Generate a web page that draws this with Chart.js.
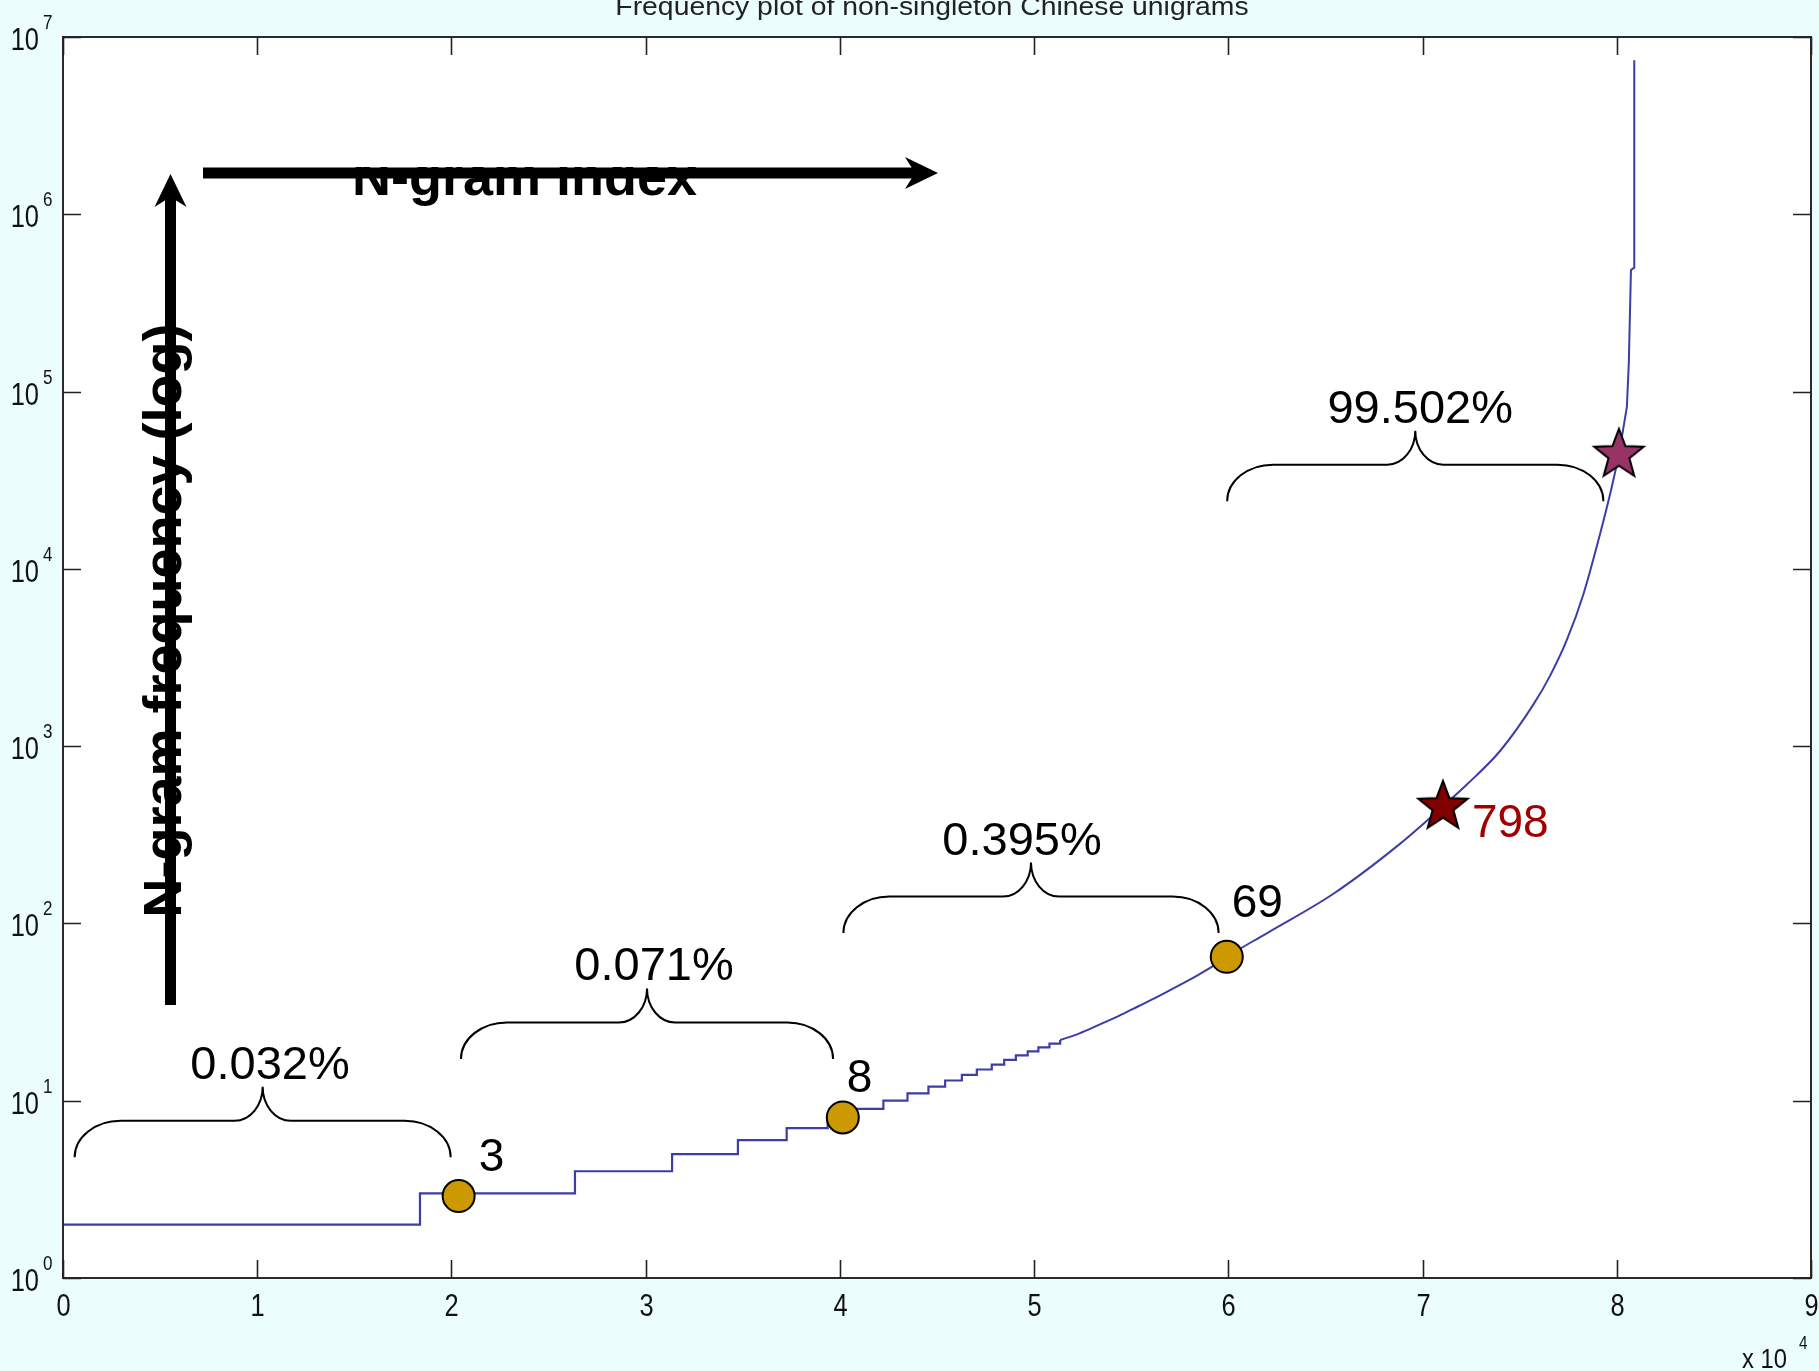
<!DOCTYPE html>
<html><head><meta charset="utf-8">
<script src="https://cdn.jsdelivr.net/npm/chart.js@4.4.1/dist/chart.umd.min.js"></script>
<style>html,body{margin:0;padding:0;background:#ecfdfd;overflow:hidden}canvas{display:block}</style>
</head><body>
<canvas id="c" width="1819" height="1371"></canvas>
<script>
// ---------- data ----------
const chartTitle = 'Frequency plot of non-singleton Chinese unigrams';
const xTickValues = [0,10000,20000,30000,40000,50000,60000,70000,80000,90000];
const xTickLabels = ['0','1','2','3','4','5','6','7','8','9'];
const xMultiplierBase = 'x 10';
const xMultiplierExp = '4';
const yTickValues = [1,10,100,1000,10000,100000,1000000,10000000];
const yTickBase = '10';
const yTickExps = ['0','1','2','3','4','5','6','7'];

// step part of the curve: index where a frequency starts, and that frequency
const stepIndex = [0,18380,26360,31360,34750,37260,39370,40800,42240,43480,44560,45420,46280,47050,47820,48460,49060,49670,50220,50790,51340];
const stepFreq  = [2,3,4,5,6,7,8,9,10,11,12,13,14,15,16,17,18,19,20,21,22];
// smooth upper part of the curve
const tailIndex = [51340,52340,53340,54340,55340,56340,57340,58340,59340,59920,61980,65410,68850,71050,72280,74000,75710,76570,77430,78290,79150,79660,80110];
const tailFreq  = [22,24,26.8,30,34,38.5,44,50.5,58.5,64.8,88,147,282,457,607,942,1720,2500,3970,7240,15900,26500,44000];
// nearly vertical spike of the most frequent unigrams
const spikeIndex = [80110,80520,80620,80730,80900,80900];
const spikeFreq  = [44000,82000,145000,485000,500000,7400000];

// highlighted points
const circleIndex = [20370,40150,59920];
const circleFreq  = [2.9,8.05,64.8];
const circleLabels = ['3','8','69'];
const starIndex = [71050,80110];
const starFreq  = [455,44000];
const starLabels = ['798',''];

// braces (index range, frequency at the feet) and their percentages
const braceStart = [600,20490,40180,59940];
const braceEnd   = [19960,39650,59500,79310];
const braceFoot  = [4.8,17.2,88.3,24100];
const braceLabels = ['0.032%','0.071%','0.395%','99.502%'];
const braceLabelIndex = [10660,30430,49380,69880];

const xArrowLabel = 'N-gram index';
const yArrowLabel = 'N-gram frequency (log)';

// ---------- styles ----------
const BG = '#ecfdfd';
const LINE = '#3d3da6';
const FONT = '"Liberation Sans", Arial, Helvetica, sans-serif';

function makeStar(fill, R){
  const s = Math.ceil(R*2+6);
  const c = document.createElement('canvas'); c.width = s; c.height = s;
  const g = c.getContext('2d');
  const cx = s/2, cy = s/2, r = R*0.42;
  g.beginPath();
  for(let i=0;i<10;i++){
    const a = -Math.PI/2 + i*Math.PI/5;
    const rr = (i%2===0)?R:r;
    const px = cx + rr*Math.cos(a), py = cy + rr*Math.sin(a);
    if(i===0) g.moveTo(px,py); else g.lineTo(px,py);
  }
  g.closePath();
  g.fillStyle = fill; g.fill();
  g.lineWidth = 2; g.strokeStyle = '#000'; g.lineJoin='miter'; g.stroke();
  return c;
}
const starImgs = [makeStar('#800000',26), makeStar('#993366',26)];

function txt(ctx, s, x, y, font, color, align, sx){
  ctx.save();
  ctx.font = font; ctx.fillStyle = color; ctx.textBaseline = 'alphabetic';
  ctx.translate(x,y); ctx.scale(sx||1,1);
  ctx.textAlign = align||'left';
  ctx.fillText(s,0,0);
  ctx.restore();
}

function brace(ctx, L, R, foot){
  const C = (L+R)/2;
  const ry = 36.5, rx = 46, line = foot - ry;
  const tip = line - 34, rx2 = 28, k = 0.5523;
  ctx.beginPath();
  ctx.moveTo(L, foot);
  ctx.bezierCurveTo(L, foot - k*ry, L + rx - k*rx, line, L + rx, line);
  ctx.lineTo(C - rx2, line);
  ctx.bezierCurveTo(C - rx2 + k*rx2, line, C, tip + k*(line-tip), C, tip);
  ctx.bezierCurveTo(C, tip + k*(line-tip), C + rx2 - k*rx2, line, C + rx2, line);
  ctx.lineTo(R - rx, line);
  ctx.bezierCurveTo(R - rx + k*rx, line, R, foot - k*ry, R, foot);
  ctx.lineWidth = 2; ctx.strokeStyle = '#000'; ctx.stroke();
  return tip;
}

function arrowHead(ctx, tx, ty, dir){ // dir: 'right' or 'up'
  ctx.save();
  ctx.translate(tx,ty);
  if(dir==='up') ctx.rotate(-Math.PI/2);
  ctx.beginPath();
  ctx.moveTo(0,0);
  ctx.lineTo(-33,-16);
  ctx.lineTo(-23,0);
  ctx.lineTo(-33,16);
  ctx.closePath();
  ctx.fillStyle='#000'; ctx.fill();
  ctx.restore();
}

const decor = {
  id:'decor',
  beforeDraw(chart){
    const ctx = chart.ctx, a = chart.chartArea;
    ctx.save();
    ctx.fillStyle = BG; ctx.fillRect(0,0,chart.width,chart.height);
    ctx.fillStyle = '#fff'; ctx.fillRect(a.left,a.top,a.right-a.left,a.bottom-a.top);
    ctx.restore();
  },
  afterDatasetsDraw(chart){
    const ctx = chart.ctx, a = chart.chartArea;
    const xs = chart.scales.x, ys = chart.scales.y;
    ctx.save();
    // frame
    ctx.strokeStyle = '#2a2a2a'; ctx.lineWidth = 2;
    ctx.strokeRect(a.left, a.top, a.right-a.left, a.bottom-a.top);
    // ticks
    ctx.lineWidth = 1.6; ctx.strokeStyle='#222';
    const TL = 18;
    xTickValues.forEach((v,i)=>{
      const px = Math.round(xs.getPixelForValue(v))+0.5;
      ctx.beginPath();
      ctx.moveTo(px,a.bottom); ctx.lineTo(px,a.bottom-TL);
      ctx.moveTo(px,a.top); ctx.lineTo(px,a.top+TL);
      ctx.stroke();
      txt(ctx, xTickLabels[i], px, a.bottom+38, '31px '+FONT, '#111', 'center', 0.82);
    });
    yTickValues.forEach((v,i)=>{
      const py = Math.round(ys.getPixelForValue(v))+0.5;
      ctx.beginPath();
      ctx.moveTo(a.left,py); ctx.lineTo(a.left+TL,py);
      ctx.moveTo(a.right,py); ctx.lineTo(a.right-TL,py);
      ctx.stroke();
      txt(ctx, yTickBase, a.left-24, py+12, '31px '+FONT, '#111', 'right', 0.82);
      txt(ctx, yTickExps[i], a.left-20, py-9, '20px '+FONT, '#111', 'left', 0.85);
    });
    txt(ctx, xMultiplierBase, a.right-69, a.bottom+90, '28px '+FONT, '#111', 'left', 0.85);
    txt(ctx, xMultiplierExp, a.right-12, a.bottom+71, '18px '+FONT, '#111', 'left', 0.85);
    // title (clipped by the top of the picture)
    txt(ctx, chartTitle, 932, 15, '26px '+FONT, '#222', 'center', 1.09);

    // braces + percentages
    for(let i=0;i<braceStart.length;i++){
      const L = xs.getPixelForValue(braceStart[i]);
      const R = xs.getPixelForValue(braceEnd[i]);
      const f = ys.getPixelForValue(braceFoot[i]);
      const tip = brace(ctx, L, R, f);
      txt(ctx, braceLabels[i], xs.getPixelForValue(braceLabelIndex[i]), tip-8, '47px '+FONT, '#000', 'center');
    }
    // marker labels
    const cm = chart.getDatasetMeta(0).data;
    const cOff = [[20,-25],[4,-25],[5,-40]];
    cm.forEach((p,i)=>{
      txt(ctx, circleLabels[i], p.x+cOff[i][0], p.y+cOff[i][1], '46px '+FONT, '#000', 'left');
    });
    const sm = chart.getDatasetMeta(1).data;
    sm.forEach((p,i)=>{
      if(starLabels[i]) txt(ctx, starLabels[i], p.x+29, p.y+30, '46px '+FONT, '#a00000', 'left');
    });

    // overlay arrows and labels
    ctx.fillStyle='#000';
    ctx.save();
    ctx.beginPath(); ctx.rect(0,167,chart.width,200); ctx.clip();
    txt(ctx, xArrowLabel, 352, 195, 'bold 54px '+FONT, '#000', 'left');
    ctx.restore();
    ctx.fillRect(203,167.5,712,11);
    arrowHead(ctx, 938, 173, 'right');
    ctx.save();
    ctx.translate(181, 620.5); ctx.rotate(-Math.PI/2);
    ctx.font = 'bold 54px '+FONT; ctx.textAlign='center'; ctx.textBaseline='alphabetic';
    ctx.fillStyle='#000'; ctx.fillText(yArrowLabel,0,0);
    ctx.restore();
    ctx.fillRect(165,195,11,810);
    arrowHead(ctx, 170.5, 174, 'up');
    ctx.restore();
  }
};

const toXY = (xa, ya) => xa.map((x,i)=>({x:x, y:ya[i]}));

new Chart(document.getElementById('c'), {
  type:'line',
  data:{
    datasets:[
      {label:'circles', data: toXY(circleIndex, circleFreq), showLine:false,
       pointStyle:'circle', pointRadius:16, pointBackgroundColor:'#cc9900', pointBorderColor:'#000', pointBorderWidth:2},
      {label:'stars', data: toXY(starIndex, starFreq), showLine:false,
       pointStyle: starImgs, pointRadius:26},
      {label:'steps', data: toXY(stepIndex, stepFreq), stepped:true, borderColor:LINE, borderWidth:2.2, pointRadius:0, fill:false},
      {label:'tail', data: toXY(tailIndex, tailFreq), borderColor:LINE, borderWidth:2, pointRadius:0, fill:false, cubicInterpolationMode:'monotone'},
      {label:'spike', data: toXY(spikeIndex, spikeFreq), borderColor:LINE, borderWidth:2, pointRadius:0, fill:false, tension:0}
    ]
  },
  options:{
    responsive:false, devicePixelRatio:1, animation:false,
    layout:{autoPadding:false, padding:{left:63, top:37, right:8, bottom:93}},
    plugins:{legend:{display:false}, tooltip:{enabled:false}, title:{display:false}},
    scales:{
      x:{type:'linear', min:0, max:90000, display:false},
      y:{type:'logarithmic', min:1, max:10000000, display:false}
    },
    events:[]
  },
  plugins:[decor]
});
</script>
</body></html>
